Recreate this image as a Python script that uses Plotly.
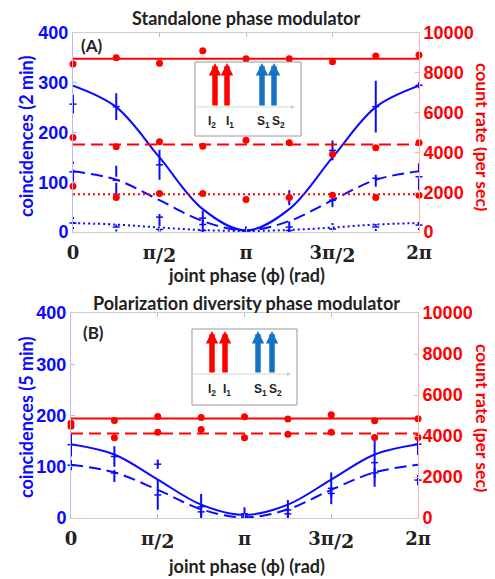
import numpy as np
import plotly.graph_objects as go

PI = np.pi
phase = [0, PI/4, PI/2, 3*PI/4, PI, 5*PI/4, 3*PI/2, 7*PI/4, 2*PI]
tick_vals = [0, PI/2, PI, 3*PI/2, 2*PI]
SUB = "<sub><span style='font-size:19px'>/2</span></sub>"
tick_text = ["0", "π" + SUB, "π", "3π" + SUB, "2π"]
left_ticks = [0, 100, 200, 300, 400]
right_ticks = [0, 2000, 4000, 6000, 8000, 10000]

# ---------- Panel A: standalone phase modulator (2 min) ----------
a_solid = [257, 252, 135, 28, 3, 69, 164, 252, 295]
a_solid_err = [19, 27, 30, 15, 8, 15, 20, 52, 6]
a_dash = [121, 104, 30, 15, 2, 10, 64, 108, 111]
a_dash_err = [20, 29, 18, 10, 4, 13, 14, 17, 27]
a_dot = [18, 10, 5, 3, 1, 3, 6, 10, 14]
a_dot_err = [12, 9, 5, 3, 2, 4, 12, 8, 10]
a_fit_solid = [294, 251, 150, 46, 3, 46, 150, 251, 294]
a_fit_dash = [122, 105, 64, 22, 3, 22, 64, 105, 122]
a_fit_dot = [18, 15, 9, 4, 2, 4, 9, 15, 18]
a_rate_solid = [8440, 8760, 8475, 9110, 8710, 8710, 8560, 8840, 8890]
a_rate_dash = [4750, 4280, 4530, 4310, 4615, 4480, 3910, 4230, 4480]
a_rate_dot = [2300, 1730, 1930, 1930, 1630, 1730, 1850, 1730, 1850]
a_rate_levels = [8700, 4400, 1900]

# ---------- Panel B: polarization diversity phase modulator (5 min) ----------
b_solid = [143, 120, 45, 22, 8, 16, 58, 108, 144]
b_solid_err = [23, 20, 29, 25, 13, 19, 31, 47, 21]
b_dash = [103, 88, 105, 12, 2, 8, 48, 88, 74]
b_dash_err = [10, 18, 9, 8, 4, 6, 8, 10, 10]
b_fit_solid = [144, 124, 75, 26, 6, 26, 75, 124, 144]
b_fit_dash = [104, 89, 55, 17, 1, 17, 55, 89, 104]
b_rate_solid = [4620, 4760, 4950, 4900, 4940, 4830, 5040, 4750, 4840]
b_rate_dash = [4480, 3920, 4180, 4320, 3920, 4080, 4180, 3930, 3930]
b_rate_levels = [4850, 4120]

inset_labels = ["I<sub>2</sub>", "I<sub>1</sub>", "S<sub>1</sub>", "S<sub>2</sub>"]

BLUE = "#0a0aff"
RED = "#ff0000"

# layout geometry: page pixels (the page body adds an 8px offset)
OFF = 8
W, H = 495, 579
ML = 71 - OFF
MT = 33 - OFF
MB = H - (518 - OFF)
MR = W - (419 - OFF)
PW, PH = W - ML - MR, H - MT - MB


def px(x):
    return (x - OFF - ML) / PW


def py(y):
    return (H - MB - (y - OFF)) / PH


fig = go.Figure()


def seg(xs, ys, es):
    X, Y = [], []
    for x, y, e in zip(xs, ys, es):
        X += [x, x, None]
        Y += [y - e, y + e, None]
    return X, Y


def add_blue(xa, ya, vals, errs, fit, dash):
    fig.add_trace(go.Scatter(x=phase, y=fit, mode="lines", line=dict(color=BLUE, width=2, dash=dash, shape="spline"),
                             xaxis=xa, yaxis=ya, showlegend=False, hoverinfo="skip"))
    X, Y = seg(phase, vals, errs)
    fig.add_trace(go.Scatter(x=X, y=Y, mode="lines", line=dict(color=BLUE, width=2, dash=dash),
                             xaxis=xa, yaxis=ya, showlegend=False, cliponaxis=False, hoverinfo="skip"))
    fig.add_trace(go.Scatter(x=phase, y=vals, mode="markers",
                             marker=dict(symbol="line-ew", size=5, line=dict(color=BLUE, width=1.5)),
                             xaxis=xa, yaxis=ya, showlegend=False, cliponaxis=False))


def add_red(xa, ya, vals, level, dash):
    fig.add_trace(go.Scatter(x=[0, 2*PI], y=[level, level], mode="lines", line=dict(color=RED, width=2, dash=dash),
                             xaxis=xa, yaxis=ya, showlegend=False, hoverinfo="skip"))
    fig.add_trace(go.Scatter(x=phase, y=vals, mode="markers", marker=dict(color=RED, size=7),
                             xaxis=xa, yaxis=ya, showlegend=False, cliponaxis=False))


DASH = "12px,6px"
DOT = "2px,3px"

add_red("x", "y2", a_rate_solid, a_rate_levels[0], "solid")
add_red("x", "y2", a_rate_dash, a_rate_levels[1], DASH)
add_red("x", "y2", a_rate_dot, a_rate_levels[2], DOT)
add_blue("x", "y", a_solid, a_solid_err, a_fit_solid, "solid")
add_blue("x", "y", a_dash, a_dash_err, a_fit_dash, DASH)
add_blue("x", "y", a_dot, a_dot_err, a_fit_dot, DOT)

add_red("x2", "y4", b_rate_solid, b_rate_levels[0], "solid")
add_red("x2", "y4", b_rate_dash, b_rate_levels[1], DASH)
add_blue("x2", "y3", b_solid, b_solid_err, b_fit_solid, "solid")
add_blue("x2", "y3", b_dash, b_dash_err, b_fit_dash, DASH)

xcommon = dict(range=[0, 2*PI], tickvals=tick_vals, ticktext=tick_text, showline=True, linecolor="#cccccc",
               linewidth=1, mirror="ticks", ticks="inside", ticklen=4, tickcolor="#bbbbbb",
               ticklabelstandoff=4,
               tickfont=dict(family="DejaVu Serif", size=18, color="#222222", weight="bold"),
               showgrid=False, zeroline=False)
yleft = dict(range=[0, 400], tickvals=left_ticks, ticktext=[str(v) for v in left_ticks],
             showline=True, linecolor="#b8b8ff", linewidth=1,
             ticks="inside", ticklen=4, tickcolor="#b8b8ff",
             tickfont=dict(family="Liberation Sans", size=18, color=BLUE, weight="bold"),
             showgrid=False, zeroline=False)
yright = dict(range=[0, 10000], tickvals=right_ticks, ticktext=[str(v) for v in right_ticks],
              showline=True, linecolor="#ffb0b0",
              linewidth=1, ticks="inside", ticklen=4, tickcolor="#ffb0b0", side="right",
              tickfont=dict(family="Liberation Sans", size=18, color=RED, weight="bold"),
              showgrid=False, zeroline=False)

top_dom = [py(232), 1.0]
bot_dom = [0.0, py(313)]

fig.update_layout(
    width=W, height=H, margin=dict(l=ML, r=MR, t=MT, b=MB),
    paper_bgcolor="white", plot_bgcolor="white", showlegend=False,
    xaxis=dict(**xcommon, domain=[px(73), 1.0], anchor="y"),
    xaxis2=dict(**xcommon, domain=[0, px(418)], anchor="y3"),
    yaxis=dict(**yleft, domain=top_dom, anchor="x"),
    yaxis2=dict(**yright, overlaying="y", anchor="x"),
    yaxis3=dict(**yleft, domain=bot_dom, anchor="x2"),
    yaxis4=dict(**yright, overlaying="y3", anchor="x2"),
)

TF = "Lato"
ann = []


def text(x, y, s, size=16, color="#222222", angle=0, bold=True, family=TF, xanchor="center"):
    ann.append(dict(x=px(x), y=py(y), xref="paper", yref="paper", text=s, showarrow=False, textangle=angle,
                    xanchor=xanchor, yanchor="middle",
                    font=dict(family=family, size=size, color=color, weight="bold" if bold else "normal")))


text(246, 18, "Standalone phase modulator", 18)
text(246, 303, "Polarization diversity phase modulator", 18)
text(246, 275, "joint phase (ϕ) (rad)", 18)
text(246, 566, "joint phase (ϕ) (rad)", 18)
text(26, 137, "coincidences (2 min)", 18, BLUE, -90)
text(26, 418, "coincidences (5 min)", 18, BLUE, -90)
text(483, 137, "count rate (per sec)", 17.5, RED, 90)
text(483, 418, "count rate (per sec)", 17.5, RED, 90)
text(79, 45, "(A)", 17, xanchor="left")
text(81, 332, "(B)", 17, xanchor="left")

shapes = []


def inset(x0, y0, x1, y1, base, top, xs, label_xs, labels_y):
    shapes.append(dict(type="rect", xref="paper", yref="paper", x0=px(x0), x1=px(x1), y0=py(y1), y1=py(y0),
                       line=dict(color="#999999", width=1), fillcolor="white", layer="above"))
    ann.append(dict(x=px(x1 - 6), y=py(base), xref="paper", yref="paper", ax=-(x1 - 6 - x0), ay=0,
                    showarrow=True, arrowhead=2, arrowsize=1, arrowwidth=0.8, arrowcolor="#cccccc", text="",
                    standoff=0))
    cols = [RED, RED, "#1473c4", "#1473c4"]
    for xx, c in zip(xs, cols):
        ann.append(dict(x=px(xx), y=py(top), xref="paper", yref="paper", ax=0, ay=base - top,
                        showarrow=True, arrowhead=2, arrowsize=0.45, arrowwidth=5.5, arrowcolor=c, text="",
                        standoff=0))
    for lx, l in zip(label_xs, inset_labels):
        text(lx, labels_y, l, 12, "#222222", 0, True, "Liberation Sans")


inset(195, 62, 301, 136, 107, 63, [215, 227, 262, 274], [212, 230, 263, 278], 122)
inset(192, 329, 297, 405, 374, 331, [212, 225, 258, 272], [212, 227, 260, 275], 390)

fig.update_layout(annotations=ann, shapes=shapes)
fig.write_html("out.html")
